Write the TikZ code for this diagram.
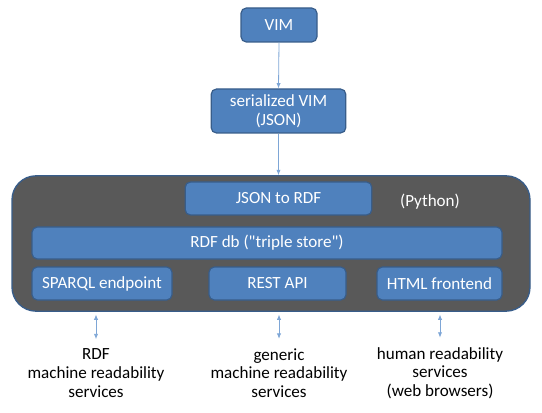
\documentclass[tikz,border=0pt]{standalone}
\usepackage{fontspec}
\setmainfont{Carlito}
\newfontfamily\rawfont{Carlito}
\usetikzlibrary{arrows.meta}
\definecolor{boxblue}{HTML}{4F81BD}
\definecolor{boxedge}{HTML}{385D8A}
\definecolor{linkblue}{HTML}{7EA6D6}
\definecolor{coregray}{HTML}{595959}
\tikzset{
  blk/.style={draw=boxedge, fill=boxblue, rounded corners=4pt, line width=0.9pt,
    text=white, inner sep=0pt, align=center, font=\fontsize{12.8}{14}\selectfont},
  link/.style={linkblue, line width=0.6pt, -{Latex[length=4pt,width=3.2pt]}},
  dlink/.style={linkblue, line width=0.6pt, {Latex[length=4pt,width=3.2pt]}-{Latex[length=4pt,width=3.2pt]}},
  svc/.style={align=center, inner sep=0pt, font=\fontsize{12.8}{14}\selectfont}
}
\begin{document}
\begin{tikzpicture}[x=0.75pt,y=-0.75pt]
  \useasboundingbox (0,0) rectangle (542,413);
  % inputs
  \node[blk, minimum width=57pt, minimum height=25.5pt] (vim) at (279,25) {VIM};
  \node[blk, minimum width=101pt, minimum height=33pt] (json) at (278.5,111) {serialized VIM\\(JSON)};
  % python service
  \node[draw=boxedge, fill=coregray, line width=1pt, rounded corners=18pt,
        minimum width=388.5pt, minimum height=101.5pt] (core) at (271,243.5) {};
  \node[blk, minimum width=140pt, minimum height=24.75pt] (conv) at (278.5,198.5) {JSON to RDF};
  \node[text=white, font=\fontsize{12.8}{14}\selectfont] (py) at (430,202) {(Python)};
  \node[blk, minimum width=352.5pt, minimum height=24pt] (store) at (267,243) {RDF db ({\rawfont"}triple store{\rawfont"})};
  \node[blk, minimum width=105pt, minimum height=24.75pt] (sparql) at (102,283.5) {SPARQL endpoint};
  \node[blk, minimum width=102.75pt, minimum height=24.75pt] (rest) at (277.5,283.5) {REST API};
  \node[blk, minimum width=93.75pt, minimum height=24.75pt] (html) at (439.5,283.5) {HTML frontend};
  % consumers
  \node[svc] (rdfsvc) at (96,373) {RDF\\machine readability\\services};
  \node[svc] (gensvc) at (279,373) {generic\\machine readability\\services};
  \node[svc] (humsvc) at (440,373) {human readability\\services\\(web browsers)};
  \draw[link] (vim.south) -- (json.north);
  \draw[link] (json.south) -- (json.south |- core.north);
  \draw[dlink] ([yshift=-2pt]rdfsvc.north |- core.south) -- ([yshift=7pt]rdfsvc.north);
  \draw[dlink] ([yshift=-2pt]gensvc.north |- core.south) -- ([yshift=7pt]gensvc.north);
  \draw[dlink] ([yshift=-2pt]humsvc.north |- core.south) -- ([yshift=7pt]humsvc.north);
\end{tikzpicture}
\end{document}
